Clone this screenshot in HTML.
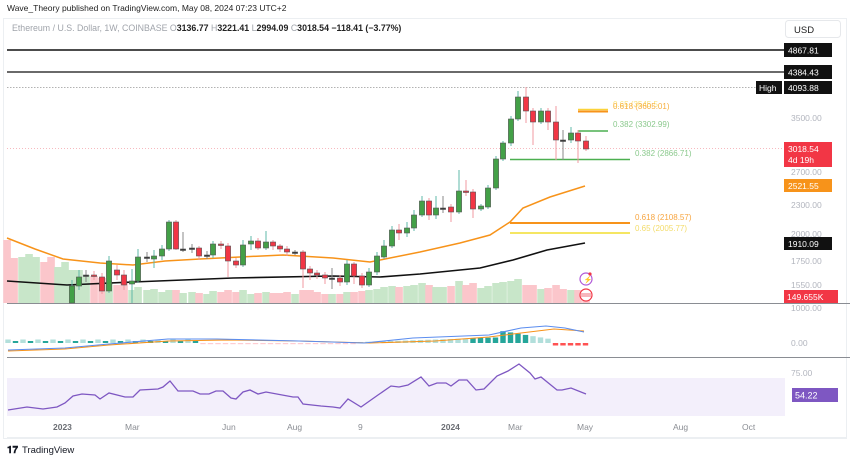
<!DOCTYPE html>
<html><head><meta charset="utf-8">
<style>
html,body{margin:0;padding:0;background:#fff;}
body{width:850px;height:461px;overflow:hidden;font-family:"Liberation Sans",sans-serif;}
svg text{font-family:"Liberation Sans",sans-serif;}
</style></head><body>
<svg id="s" width="850" height="461" viewBox="0 0 850 461" xmlns="http://www.w3.org/2000/svg">
<rect x="0" y="0" width="850" height="461" fill="#fff"/>
<text x="7" y="11" font-size="8.5" fill="#222">Wave_Theory published on TradingView.com, May 08, 2024 07:23 UTC+2</text>
<rect x="3.5" y="18.5" width="843" height="420" fill="none" stroke="#eceff2"/>
<text x="12" y="31" font-size="8.8" fill="#a0a4ab">Ethereum / U.S. Dollar, 1W, COINBASE  <tspan fill="#a0a4ab">O</tspan><tspan fill="#222" font-weight="bold">3136.77</tspan> <tspan fill="#a0a4ab">H</tspan><tspan fill="#222" font-weight="bold">3221.41</tspan> <tspan fill="#a0a4ab">L</tspan><tspan fill="#222" font-weight="bold">2994.09</tspan> <tspan fill="#a0a4ab">C</tspan><tspan fill="#222" font-weight="bold">3018.54  −118.41 (−3.77%)</tspan></text>
<rect x="7" y="378" width="778" height="38" fill="#f3effb"/>
<g id="vol"></g>
<line x1="7" y1="303.5" x2="850" y2="303.5" stroke="#8a8d93" stroke-width="1"/>
<line x1="7" y1="357.5" x2="850" y2="357.5" stroke="#8a8d93" stroke-width="1"/>
<line x1="7" y1="50" x2="784" y2="50" stroke="#111" stroke-width="1.5"/>
<line x1="7" y1="72" x2="784" y2="72" stroke="#111" stroke-width="1.2"/>
<line x1="7" y1="87.5" x2="757" y2="87.5" stroke="#999" stroke-width="0.8" stroke-dasharray="1.5,1.5"/>
<line x1="7" y1="148.5" x2="784" y2="148.5" stroke="#f5a3aa" stroke-width="0.8" stroke-dasharray="1,2"/>
<line x1="578" y1="109.5" x2="608" y2="109.5" stroke="#fbd33a" stroke-width="1.5"/>
<line x1="578" y1="111.5" x2="608" y2="111.5" stroke="#f7931a" stroke-width="2"/>
<line x1="578" y1="131" x2="608" y2="131" stroke="#4caf50" stroke-width="1.5"/>
<line x1="510" y1="159.5" x2="630" y2="159.5" stroke="#4caf50" stroke-width="1.5"/>
<line x1="510" y1="223" x2="630" y2="223" stroke="#f7931a" stroke-width="2"/>
<line x1="510" y1="233" x2="630" y2="233" stroke="#f5e663" stroke-width="2"/>
<text x="613" y="107" font-size="8" fill="#fbe27a">0.65 (3545.5</text>
<text x="613" y="109" font-size="8" fill="#f7b040">0.618 (3605.01)</text>
<text x="613" y="127" font-size="8" fill="#8bc98d">0.382 (3302.99)</text>
<text x="635" y="156" font-size="8" fill="#8bc98d">0.382 (2866.71)</text>
<text x="635" y="220" font-size="8" fill="#f7a540">0.618 (2108.57)</text>
<text x="635" y="231" font-size="8" fill="#f3dc6a">0.65 (2005.77)</text>
<g id="ma"></g>
<g id="candles"></g>
<g id="macd"></g>
<circle cx="586" cy="279" r="6" fill="#fff" stroke="#b05ad8" stroke-width="1.2"/>
<text x="583.5" y="282" font-size="7" fill="#b05ad8">⚡</text>
<circle cx="590" cy="274" r="1.6" fill="#f23645"/>
<circle cx="586" cy="295" r="6" fill="#fff" stroke="#f23645" stroke-width="1.2"/>
<rect x="581" y="293" width="10" height="4" fill="#f7b7bd"/>
<polyline fill="none" stroke="#7e57c2" stroke-width="1.3" points="8,410 27,407 43,409 57,407 65,403 73,396 82,394 95,395 100,399 109,393 125,397 133,397 140,390 158,389 163,387 170,381 178,391 193,391 200,394 209,394 216,391 223,391 231,398 236,399 243,392 250,390 258,394 266,392 293,397 298,397 303,404 321,406 333,407 340,408 348,399 361,407 378,395 391,386 399,387 408,385 421,377 429,386 437,383 446,383 451,386 459,380 467,380 476,390 484,389 497,376 508,371 519,364 530,373 535,379 541,377 557,390 562,390 571,388 586,394"/>
<rect x="785.5" y="20.5" width="55" height="17" rx="3" fill="#fff" stroke="#e6e8eb"/>
<text x="794" y="33" font-size="9.5" fill="#222">USD</text>
<g font-size="8.5" fill="#fff">
<rect x="784" y="43" width="48" height="14" fill="#111"/><text x="788" y="53.5">4867.81</text>
<rect x="784" y="65" width="48" height="14" fill="#111"/><text x="788" y="75.5">4384.43</text>
<rect x="756" y="81" width="26" height="13" fill="#111"/><text x="759" y="91">High</text>
<rect x="784" y="81" width="48" height="13" fill="#111"/><text x="788" y="91">4093.88</text>
<rect x="784" y="142" width="48" height="25" fill="#f23645"/><text x="788" y="152">3018.54</text><text x="788" y="163">4d 19h</text>
<rect x="784" y="179" width="48" height="13" fill="#f7931a"/><text x="788" y="189">2521.55</text>
<rect x="784" y="237" width="48" height="13" fill="#111"/><text x="788" y="247">1910.09</text>
<rect x="784" y="290" width="54" height="13" fill="#f23645"/><text x="787" y="300">149.655K</text>
<rect x="792" y="388" width="46" height="14" fill="#7e57c2"/><text x="795" y="398.5" font-size="9">54.22</text>
</g>
<g font-size="8.5" fill="#b2b5be">
<text x="791" y="121">3500.00</text>
<text x="791" y="175">2700.00</text>
<text x="791" y="208">2300.00</text>
<text x="791" y="237">2000.00</text>
<text x="791" y="264">1750.00</text>
<text x="791" y="288">1550.00</text>
<text x="791" y="311">1000.00</text>
<text x="791" y="346">0.00</text>
<text x="791" y="376">75.00</text>
</g>
<line x1="7" y1="437.5" x2="847" y2="437.5" stroke="#eceff2"/>
<g font-size="8.5" fill="#8a8d93">
<text x="53" y="430" font-weight="bold" fill="#6a6d73">2023</text>
<text x="125" y="430">Mar</text>
<text x="222" y="430">Jun</text>
<text x="287" y="430">Aug</text>
<text x="358" y="430">9</text>
<text x="441" y="430" font-weight="bold" fill="#6a6d73">2024</text>
<text x="508" y="430">Mar</text>
<text x="577" y="430">May</text>
<text x="673" y="430">Aug</text>
<text x="742" y="430">Oct</text>
</g>
<text x="7" y="453" font-size="10" font-weight="bold" fill="#131722">𝟏𝟕</text>
<text x="22" y="453" font-size="9.5" fill="#131722">TradingView</text>
</svg>
<script>
var NS="http://www.w3.org/2000/svg";
function el(p,t,a){var e=document.createElementNS(NS,t);for(var k in a)e.setAttribute(k,a[k]);document.getElementById(p).appendChild(e);return e;}
var C=[
[72,286,303,'G',280,310],[79,277,286,'G',270,290],[86,275,276,'D',270,282],[94,275,276,'R',271,280],[102,277,291,'R',273,294],
[109,261,291,'G',256,293],[117,270,275,'R',265,280],[124,275,285,'R',270,290],[132,281,284,'G',269,303],[138,257,281,'G',249,283],
[147,257,258,'D',252,262],[154,256,259,'G',250,268],[162,249,256,'G',245,260],[169,222,249,'G',220,251],[176,222,249,'R',220,250],
[183,249,250,'D',232,252],[192,248,249,'D',244,253],[199,248,256,'R',246,260],[207,255,256,'D',251,259],[213,244,255,'G',241,258],
[221,244,245,'R',241,249],[228,246,261,'R',243,277],[236,261,265,'R',258,268],[243,245,265,'G',240,267],[251,241,244,'G',236,250],
[258,241,248,'R',238,250],[266,242,248,'G',231,250],[273,242,246,'R',240,250],[280,246,249,'R',244,252],[287,249,252,'R',246,256],
[295,252,253,'D',250,255],[303,252,269,'R',250,288],[310,269,273,'R',266,280],[317,273,275,'R',270,279],[325,275,278,'R',272,284],
[332,278,279,'D',268,289],[340,278,282,'R',275,286],[347,264,282,'G',260,285],[354,264,276,'R',262,284],[362,276,285,'R',273,288],
[369,272,285,'G',268,287],[377,256,272,'G',252,275],[384,246,257,'G',240,259],
[392,230,246,'G',226,248],[399,230,233,'R',224,240],[407,228,233,'G',222,237],[414,215,228,'G',210,231],[422,201,215,'G',196,217],
[429,201,215,'R',198,220],[436,208,215,'G',196,219],[443,208,209,'D',196,213],[451,207,212,'R',204,222],[459,191,212,'G',170,214],
[466,191,192,'R',180,196],[473,192,209,'R',189,218],[481,206,209,'G',204,211],[488,188,207,'G',185,209],[496,159,188,'G',156,190],
[503,143,159,'G',141,161],[511,119,143,'G',116,146],[518,97,119,'G',91,121],[526,97,111,'R',87,123],[533,111,122,'R',108,145],
[541,111,122,'G',108,124],[548,111,122,'R',108,130],[556,122,140,'R',106,160],[563,140,141,'D',130,160],[571,133,140,'G',127,143],
[578,133,141,'R',130,163],[586,141,149,'R',136,151]
];
C.forEach(function(c){
 var x=c[0],t=c[1],b=c[2],k=c[3];
 var wc=k=='G'?'#5fb8a8':(k=='R'?'#f19aa2':'#888');
 el('candles','line',{x1:x,x2:x,y1:c[4],y2:Math.min(c[5],303),stroke:wc,'stroke-width':1});
 var fill=k=='G'?'#43a047':(k=='R'?'#f23645':'#333');
 var h=Math.max(b-t,1.5);
 if(t+h>303)h=303-t;
 el('candles','rect',{x:x-2.6,y:t,width:5.2,height:h,fill:fill,stroke:'#555','stroke-width':0.6});
});
var V=[
[7,'R',240],[14,'R',258],[22,'G',257],[29,'G',254],[36,'G',257],[44,'R',262],[51,'R',257],[58,'G',267],[65,'G',262],
[72,'G',270],[79,'G',270],[86,'G',275],[94,'R',276],[102,'R',278],[109,'G',282],[117,'R',285],[124,'R',283],[132,'G',290],[138,'G',287],
[147,'G',290],[154,'G',289],[162,'G',292],[169,'G',290],[176,'R',290],[183,'G',293],[192,'G',292],[199,'R',293],[207,'G',294],[213,'G',291],
[221,'R',292],[228,'R',290],[236,'R',292],[243,'G',290],[251,'G',294],[258,'R',293],[266,'G',292],[273,'R',293],[280,'R',293],[287,'R',292],
[295,'G',294],[303,'R',290],[310,'R',290],[317,'R',292],[325,'R',294],[332,'G',294],[340,'R',294],[347,'G',292],[354,'R',292],[362,'R',291],
[369,'G',290],[377,'G',289],[384,'G',287],[392,'G',286],[399,'R',287],[407,'G',286],[414,'G',285],[422,'G',283],[429,'R',285],[436,'G',287],
[443,'G',287],[451,'R',286],[459,'G',281],[466,'R',285],[473,'R',283],[481,'G',288],[488,'G',286],[496,'G',283],[503,'G',282],[511,'G',281],
[518,'G',279],[526,'R',285],[533,'R',285],[541,'G',289],[548,'R',288],[556,'R',285],[563,'R',289],[571,'G',290],[578,'R',290],[586,'R',292]
];
V.forEach(function(v){
 el('vol','rect',{x:v[0]-3.75,y:v[2],width:7.6,height:303-v[2],fill:v[1]=='G'?'#c8e6c9':'#fbc6cb'});
});
el('ma','polyline',{fill:'none',stroke:'#f7931a','stroke-width':1.5,points:'7,238 35,249 63,259 100,263 133,265 165,261 200,259 240,257 283,255 333,258 370,262 385,259 420,252 460,243 490,235 510,222 523,208 550,197 585,186'});
el('ma','polyline',{fill:'none',stroke:'#111','stroke-width':1.6,points:'7,281 67,285 133,282 233,278 333,276 380,277 420,274 480,268 513,260 547,250 585,243'});
for(var x=8;x<=588;x+=7.5){
 var h; var col='#b2dfdb';
 if(x<200){h=1.5+((x*7)%3);col=(Math.floor(x)%3==0)?'#26a69a':'#b2dfdb';}
 else if(x<360){h=-1.2;col='#ffcdd2';}
 else if(x<500){h=1+(x-360)/30;col='#b2dfdb';if(x>470)col='#26a69a';}
 else if(x<555){h=9-(x-520)/6;col=x<530?'#26a69a':'#b2dfdb';}
 else {h=-2.5;col='#ff5252';}
 var y0=343;
 if(h>=0) el('macd','rect',{x:x-2.7,y:y0-h,width:5.4,height:h,fill:col});
 else el('macd','rect',{x:x-2.7,y:y0,width:5.4,height:-h,fill:col});
}
el('macd','polyline',{fill:'none',stroke:'#f7931a','stroke-width':1.1,points:'8,351 65,349 109,345 168,341 228,340 299,341 370,343 435,341 489,337 521,333 554,329 584,331'});
el('macd','polyline',{fill:'none',stroke:'#5b8def','stroke-width':1.1,points:'8,350 65,348 109,344 168,339 217,339 299,341 364,343 413,338 489,335 521,328 546,326 565,328 584,332'});
</script>
</body></html>
